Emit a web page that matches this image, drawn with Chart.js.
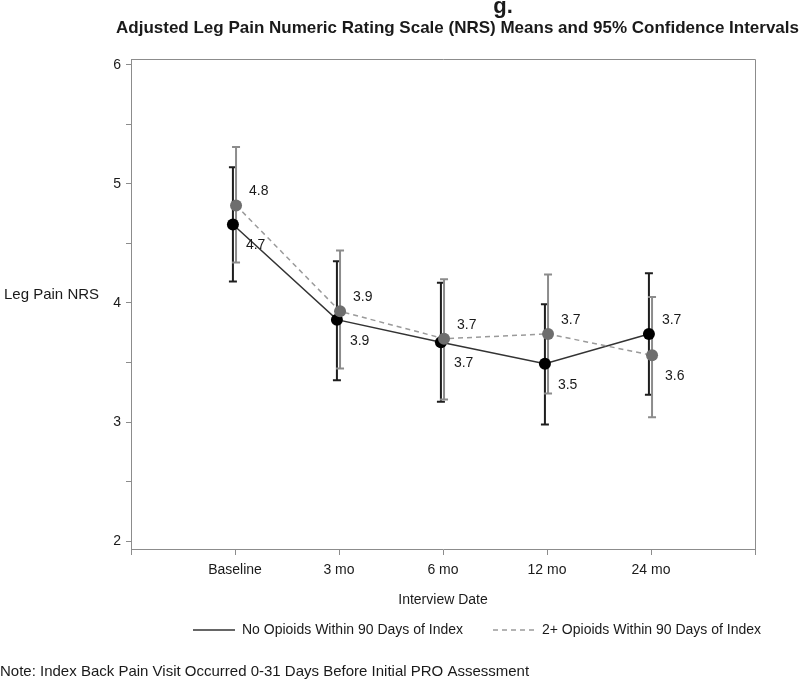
<!DOCTYPE html>
<html>
<head>
<meta charset="utf-8">
<title>Adjusted Leg Pain NRS</title>
<script src="https://cdn.jsdelivr.net/npm/chart.js@4.4.1/dist/chart.umd.min.js"></script>
<style>
  html, body { margin: 0; padding: 0; background: #fff; }
</style>
</head>
<body>
<canvas id="chart" width="800" height="682"></canvas>
<script>
// Adjusted leg pain NRS means and 95% CIs, by opioid group
const categories = ['Baseline', '3 mo', '6 mo', '12 mo', '24 mo'];

const noOpioidMean  = [4.66, 3.86, 3.67, 3.49, 3.74];
const noOpioidLower = [4.18, 3.35, 3.17, 2.98, 3.23];
const noOpioidUpper = [5.14, 4.35, 4.17, 3.99, 4.25];

const opioidMean  = [4.82, 3.93, 3.70, 3.74, 3.56];
const opioidLower = [4.34, 3.45, 3.19, 3.24, 3.04];
const opioidUpper = [5.31, 4.44, 4.20, 4.24, 4.05];

const xTickValues = [0, 1, 2, 3, 4, 5, 6];
const yTickValues = [2, 2.5, 3, 3.5, 4, 4.5, 5, 5.5, 6];

const titleText = 'Adjusted Leg Pain Numeric Rating Scale (NRS) Means and 95% Confidence Intervals';
const noteText = 'Note: Index Back Pain Visit Occurred 0-31 Days Before Initial PRO Assessment';

const FONT = "'Liberation Sans', Arial, sans-serif";
const TEXT = '#1a1a1a';
const AXIS = '#8c8c8c';

Chart.defaults.font.family = FONT;
Chart.defaults.color = TEXT;

// points sit on category index + small per-group offset
function toPoints(means, offset) {
    return means.map((v, i) => ({ x: i + 1 + offset, y: v }));
}

/**
 * Draws the plot frame, CI bars, value labels, titles, legend and note
 */
const decorations = {
    id: 'decorations',

    beforeDatasetsDraw(chart) {
        const { ctx, chartArea, scales } = chart;
        ctx.save();
        ctx.strokeStyle = AXIS;
        ctx.lineWidth = 1;
        ctx.beginPath();
        ctx.moveTo(chartArea.left, chartArea.top + 0.5);
        ctx.lineTo(chartArea.right + 0.5, chartArea.top + 0.5);
        ctx.lineTo(chartArea.right + 0.5, chartArea.bottom);
        ctx.stroke();

        // confidence interval bars, black group first so grey lands on top
        chart.data.datasets.forEach((ds, di) => {
            const meta = chart.getDatasetMeta(di);
            ctx.strokeStyle = ds.ciColor;
            ctx.lineWidth = 2;
            meta.data.forEach((pt, i) => {
                const yLo = scales.y.getPixelForValue(ds.lower[i]);
                const yHi = scales.y.getPixelForValue(ds.upper[i]);
                ctx.beginPath();
                ctx.moveTo(pt.x, yLo);
                ctx.lineTo(pt.x, yHi);
                ctx.moveTo(pt.x - 4, yLo);
                ctx.lineTo(pt.x + 4, yLo);
                ctx.moveTo(pt.x - 4, yHi);
                ctx.lineTo(pt.x + 4, yHi);
                ctx.stroke();
            });
        });
        ctx.restore();
    },

    afterDatasetsDraw(chart) {
        const { ctx } = chart;
        const sets = chart.data.datasets;
        ctx.save();
        ctx.font = '14px ' + FONT;
        ctx.fillStyle = TEXT;
        ctx.textAlign = 'left';
        ctx.textBaseline = 'middle';
        sets.forEach((ds, di) => {
            const other = sets[1 - di];
            const meta = chart.getDatasetMeta(di);
            meta.data.forEach((pt, i) => {
                const above = ds.means[i] >= other.means[i];
                ctx.fillText(ds.means[i].toFixed(1), pt.x + 13, pt.y + (above ? -14 : 21));
            });
        });
        ctx.restore();
    },

    afterDraw(chart) {
        const { ctx, scales } = chart;
        ctx.save();
        ctx.fillStyle = TEXT;
        ctx.textBaseline = 'alphabetic';

        ctx.font = 'bold 22px ' + FONT;
        ctx.textAlign = 'center';
        ctx.fillText('g.', 503, 13);

        ctx.font = 'bold 17px ' + FONT;
        ctx.textAlign = 'left';
        ctx.fillText(titleText, 116, 33);

        // horizontal y-axis title
        ctx.font = '15px ' + FONT;
        ctx.textBaseline = 'middle';
        ctx.fillText('Leg Pain NRS', 4, scales.y.getPixelForValue(4) - 8);

        // legend
        ctx.font = '14px ' + FONT;
        let x = 193;
        const y = 630;
        chart.data.datasets.forEach(ds => {
            ctx.strokeStyle = ds.borderColor;
            ctx.lineWidth = 1.5;
            ctx.setLineDash(ds.borderDash || []);
            ctx.beginPath();
            ctx.moveTo(x, y);
            ctx.lineTo(x + 42, y);
            ctx.stroke();
            ctx.setLineDash([]);
            x += 49;
            ctx.fillText(ds.label, x, y);
            x += ctx.measureText(ds.label).width + 30;
        });

        ctx.font = '15px ' + FONT;
        ctx.fillText(noteText, 0, 672);
        ctx.restore();
    }
};

const config = {
    type: 'line',
    data: {
        datasets: [
            {
                label: 'No Opioids Within 90 Days of Index',
                data: toPoints(noOpioidMean, -0.02),
                means: noOpioidMean,
                lower: noOpioidLower,
                upper: noOpioidUpper,
                ciColor: '#1e1e1e',
                borderColor: '#333333',
                borderWidth: 1.5,
                pointRadius: 6,
                pointBorderWidth: 0,
                pointBackgroundColor: '#000000',
                order: 1
            },
            {
                label: '2+ Opioids Within 90 Days of Index',
                data: toPoints(opioidMean, 0.01),
                means: opioidMean,
                lower: opioidLower,
                upper: opioidUpper,
                ciColor: '#8c8c8c',
                borderColor: '#9a9a9a',
                borderWidth: 1.5,
                borderDash: [5, 4],
                pointRadius: 6,
                pointBorderWidth: 0,
                pointBackgroundColor: '#6e6e6e',
                order: 0
            }
        ]
    },
    options: {
        responsive: false,
        animation: false,
        devicePixelRatio: 1,
        layout: {
            padding: { top: 59, right: 45, bottom: 73, left: 0 }
        },
        plugins: {
            legend: { display: false },
            tooltip: { enabled: false }
        },
        scales: {
            x: {
                type: 'linear',
                min: 0,
                max: 6,
                afterBuildTicks: s => { s.ticks = xTickValues.map(v => ({ value: v })); },
                afterFit: s => { s.height = 60; },
                ticks: {
                    autoSkip: false,
                    maxRotation: 0,
                    padding: 7,
                    font: { size: 14 },
                    callback: v => categories[v - 1] || ''
                },
                grid: { drawOnChartArea: false, tickLength: 6, color: AXIS },
                border: { color: AXIS },
                title: {
                    display: true,
                    text: 'Interview Date',
                    font: { size: 14 },
                    padding: { top: 0, bottom: 0 }
                }
            },
            y: {
                type: 'linear',
                min: 1.933,
                max: 6.05,
                afterBuildTicks: s => { s.ticks = yTickValues.map(v => ({ value: v })); },
                afterFit: s => { s.width = 131; },
                ticks: {
                    padding: 5,
                    font: { size: 14 },
                    callback: v => Number.isInteger(v) ? String(v) : ''
                },
                grid: { drawOnChartArea: false, tickLength: 5, color: AXIS },
                border: { color: AXIS }
            }
        }
    },
    plugins: [decorations]
};

new Chart(document.getElementById('chart'), config);
</script>
</body>
</html>
